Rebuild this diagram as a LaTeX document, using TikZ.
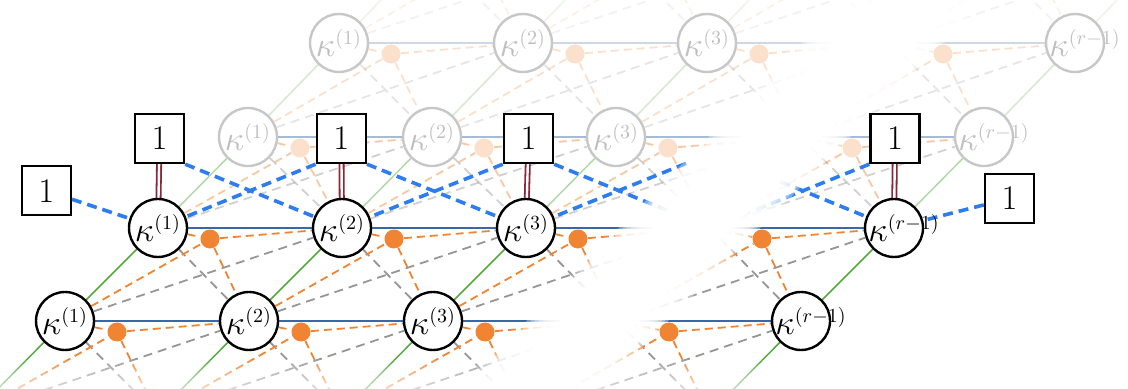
\documentclass[tikz,border=0pt]{standalone}
\pgfdeclarelayer{bg}
\pgfdeclarelayer{fade}
\pgfsetlayers{bg,fade,main}
\definecolor{cgreen}{RGB}{84,168,62}
\definecolor{cblue}{RGB}{58,104,164}
\definecolor{corange}{RGB}{240,132,50}
\definecolor{cgray}{RGB}{150,150,150}
\definecolor{cdash}{RGB}{45,125,240}
\definecolor{cmaroon}{RGB}{135,40,55}
\tikzset{
 kn/.style={circle, draw=black, line width=1.2pt, fill=white, minimum size=29pt, inner sep=0pt},
 kf/.style={circle, draw=black!22, line width=1.2pt, fill=white, minimum size=29pt, inner sep=0pt},
 lbln/.style={text=black, font=\LARGE},
 lblf/.style={text=black!25, font=\LARGE},
 dotn/.style={circle, fill=corange, minimum size=9.5pt, inner sep=0pt},
 dotf/.style={circle, fill=corange!25, minimum size=9.5pt, inner sep=0pt},
 onebox/.style={draw=black, line width=1.2pt, fill=white, minimum size=24.5pt, inner sep=0pt, font=\LARGE},
 ghostbox/.style={minimum size=24.5pt, inner sep=0pt},
 hsolid/.style={cblue, line width=0.9pt},
 odash/.style={corange, line width=0.9pt, dash pattern=on 4pt off 2.5pt},
 gdash/.style={cgray, line width=0.9pt, dash pattern=on 4.5pt off 3pt},
 gline/.style={cgreen, line width=0.75pt},
 bdash/.style={cdash, line width=1.8pt, dash pattern=on 5pt off 3pt},
 dbl/.style={draw=cmaroon, double=white, line width=0.9pt, double distance=1.2pt},
}
\begin{document}
\begin{tikzpicture}[x=0.5pt, y=-0.5pt]
\useasboundingbox (0,0) rectangle (1128,389);
% positions
\foreach \L/\xo/\yy in {0/-27/414, 1/65/321, 2/158/228, 3/248/137, 4/339/43, 5/430/-50} {
  \foreach \i in {0,...,4} {
    \coordinate (P-\L-\i) at (\xo+184*\i, \yy);
  }
  \foreach \i in {0,...,3} {
    \coordinate (Q-\L-\i) at (\xo+184*\i+52, \yy+11);
  }
}
% off-screen and hidden lattice points
\foreach \L in {0,5} {
  \foreach \i in {0,...,4} { \coordinate (N-\L-\i) at (P-\L-\i); }
  \foreach \i in {0,...,3} { \coordinate (D-\L-\i) at (Q-\L-\i); }
}
\foreach \L in {1,...,4} { \coordinate (N-\L-3) at (P-\L-3); }
% visible nodes
\foreach \L/\sty/\lsty in {1/kn/lbln, 2/kn/lbln, 3/kf/lblf, 4/kf/lblf} {
  \foreach \i/\lab/\sh in {0/1/0, 1/2/0, 2/3/0, 4/r-1/5} {
    \node[\sty, label={[\lsty, xshift=\sh pt]center:$\kappa^{\scriptscriptstyle(\lab)}$}] (N-\L-\i) at (P-\L-\i) {};
  }
}
\foreach \L/\dsty in {1/dotn, 2/dotn, 3/dotf, 4/dotf} {
  \foreach \i in {0,...,3} { \node[\dsty] (D-\L-\i) at (Q-\L-\i) {}; }
}
% boxes
\node[onebox] (B-0) at (159.5,138.5) {1};
\node[onebox] (B-1) at (341.3,138.5) {1};
\node[onebox] (B-2) at (528.5,138.5) {1};
\node[ghostbox] (B-3) at (711,138.5) {};
\node[onebox] (B-4) at (895,138.5) {1};
\node[onebox] (B-L) at (46.3,190.7) {1};
\node[onebox] (B-R) at (1009.5,198.3) {1};
% connectors
\begin{pgfonlayer}{bg}
\foreach \L/\op in {5/0.12, 4/0.25, 3/0.45, 2/1, 1/1} {
  \pgfmathtruncatemacro\Lm{\L-1}
  \foreach \i in {0,...,4} { \draw[gline, opacity=\op] (N-\Lm-\i) -- (N-\L-\i); }
  \foreach \i in {0,...,3} {
    \pgfmathtruncatemacro\ip{\i+1}
    \draw[gdash, opacity=\op] (N-\Lm-\i) -- (N-\L-\ip);
    \draw[gdash, opacity=\op] (N-\L-\i) -- (N-\Lm-\ip);
    \draw[odash, opacity=\op] (N-\Lm-\i) -- (D-\L-\i);
    \draw[odash, opacity=\op] (D-\L-\i) -- (N-\Lm-\ip);
    \draw[odash, opacity=\op] (N-\L-\i) -- (D-\L-\i);
    \draw[odash, opacity=\op] (D-\L-\i) -- (N-\L-\ip);
    \ifnum\L<5 \draw[hsolid, opacity=\op] (N-\L-\i) -- (N-\L-\ip); \fi
  }
}
\draw[bdash] (B-L) -- (N-2-0);
\draw[bdash] (B-R) -- (N-2-4);
\foreach \i in {0,...,3} {
  \pgfmathtruncatemacro\ip{\i+1}
  \draw[bdash] (B-\i.south east) -- (N-2-\ip);
  \draw[bdash] (B-\ip.south west) -- (N-2-\i);
}
\foreach \i in {0,1,2,4} { \draw[dbl] (B-\i) -- (N-2-\i); }
\end{pgfonlayer}
% fading of the gap and of the lower edge
\begin{pgfonlayer}{fade}
\foreach \j in {1,...,8} {
  \fill[white, opacity=0.35] (900+4*\j,-60) -- (1049-3.5*\j,-60) -- (544-3.5*\j,450) -- (395+4*\j,450) -- cycle;
}
\fill[white] (937,-60) -- (1017,-60) -- (512,450) -- (432,450) -- cycle;
\foreach \j in {0,...,9} {
  \fill[white, opacity=0.1] (-10,360+3*\j) rectangle (1140,400);
}
\end{pgfonlayer}
\end{tikzpicture}
\end{document}
